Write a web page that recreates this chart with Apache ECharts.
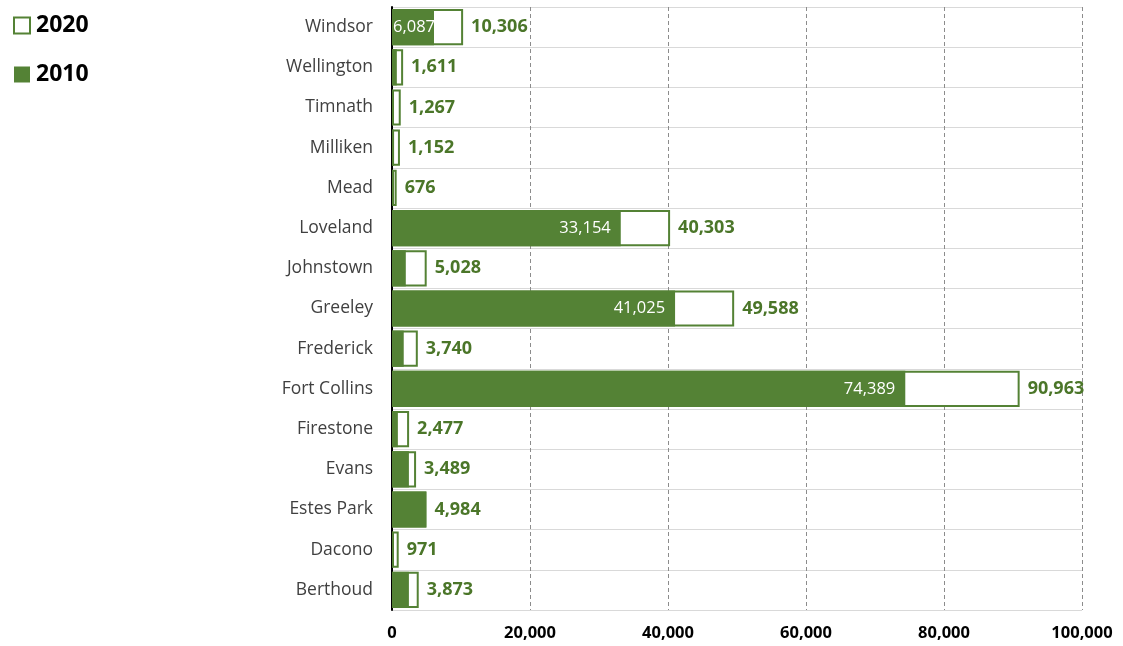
<!DOCTYPE html>
<html>
<head>
<meta charset="utf-8">
<script src="https://cdn.jsdelivr.net/npm/echarts@6/dist/echarts.min.js"></script>
<style>
  html, body { margin: 0; padding: 0; background: #fff; }
  #chart { width: 1123px; height: 646px; }
</style>
</head>
<body>
<div id="chart"></div>
<script>
// Towns, listed from the bottom of the axis upward
const towns = ['Berthoud', 'Dacono', 'Estes Park', 'Evans', 'Firestone', 'Fort Collins',
  'Frederick', 'Greeley', 'Johnstown', 'Loveland', 'Mead', 'Milliken', 'Timnath',
  'Wellington', 'Windsor'];

const values2020 = [3873, 971, 4984, 3489, 2477, 90963, 3740, 49588, 5028, 40303,
  676, 1152, 1267, 1611, 10306];

const values2010 = [2450, 200, 4980, 2450, 850, 74389, 1700, 41025, 2000, 33154,
  100, 300, 100, 700, 6087];

// 2010 values that carry an in-bar label
const labelled2010 = ['Windsor', 'Loveland', 'Greeley', 'Fort Collins'];

const GREEN = '#548235';
const LABEL_GREEN = '#4b7629';
const fmt = v => Number(v).toLocaleString('en-US');

const chart = echarts.init(document.getElementById('chart'));

chart.setOption({
  animation: false,
  legend: {
    orient: 'vertical',
    left: 8,
    top: 9,
    itemGap: 26,
    itemWidth: 16,
    itemHeight: 16,
    icon: 'rect',
    data: ['2020', '2010'],
    textStyle: { fontFamily: 'Open Sans', fontWeight: 'bold', fontSize: 23, color: '#000', padding: [0, 0, 0, 1] }
  },
  grid: { left: 392, right: 41, top: 7, bottom: 36, containLabel: false },
  xAxis: {
    type: 'value',
    min: 0,
    max: 100000,
    interval: 20000,
    axisLine: { show: false },
    axisTick: { show: false },
    splitLine: { show: true, lineStyle: { color: '#8c8c8c', type: [4, 3], width: 1 } },
    axisLabel: {
      fontFamily: 'Open Sans', fontWeight: 'bold', fontSize: 16.5, color: '#000', margin: 15,
      formatter: v => fmt(v)
    }
  },
  yAxis: {
    type: 'category',
    data: towns,
    axisLine: { show: true, lineStyle: { color: '#000', width: 2 } },
    axisTick: { show: false },
    splitLine: { show: true, lineStyle: { color: '#d9d9d9', width: 1 } },
    axisLabel: { fontFamily: 'Open Sans', fontSize: 17.5, color: '#404040', margin: 19 }
  },
  series: [
    {
      name: '2020',
      type: 'bar',
      data: values2020,
      barGap: '-100%',
      barCategoryGap: '10%',
      itemStyle: { color: '#fff', borderColor: GREEN, borderWidth: 2 },
      label: {
        show: true,
        position: 'right',
        distance: 8,
        fontFamily: 'Open Sans',
        fontWeight: 'bold',
        fontSize: 18,
        color: LABEL_GREEN,
        formatter: p => fmt(p.value)
      }
    },
    {
      name: '2010',
      type: 'bar',
      data: values2010.map((v, i) => ({
        value: v,
        label: towns[i] === 'Windsor'
          ? { show: true, position: 'insideLeft', distance: 1 }
          : { show: labelled2010.includes(towns[i]), distance: 10 }
      })),
      barGap: '-100%',
      barCategoryGap: '10%',
      itemStyle: { color: GREEN },
      label: {
        position: 'insideRight',
        fontFamily: 'Open Sans',
        fontSize: 16.5,
        color: '#fff',
        formatter: p => fmt(p.value)
      }
    }
  ]
});
</script>
</body>
</html>
